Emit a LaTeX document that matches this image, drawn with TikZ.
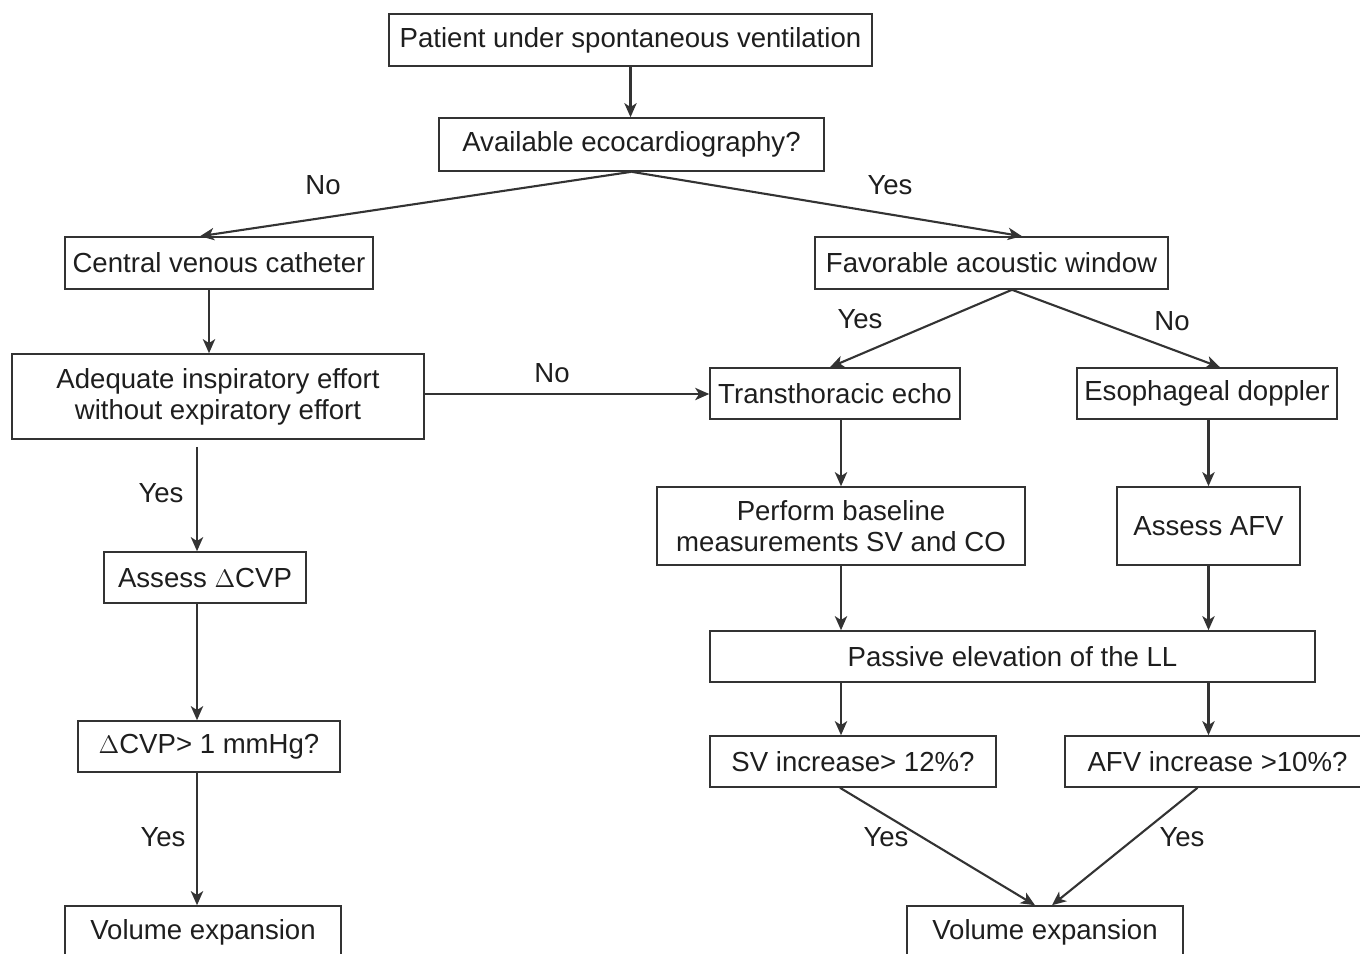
\documentclass[tikz,border=0pt]{standalone}
\usepackage{fontspec}
\setmainfont{Liberation Sans}
\usetikzlibrary{arrows.meta}
\definecolor{linegray}{HTML}{333333}
\definecolor{textgray}{HTML}{1E1E1E}
\begin{document}
\begin{tikzpicture}[x=0.02cm,y=-0.02cm,
  box/.style={draw=linegray,line width=0.9pt,rectangle,inner sep=2pt,align=center,
    text=textgray,font=\fontsize{15.7}{17.6}\selectfont},
  lbl/.style={text=textgray,font=\fontsize{15.7}{17.6}\selectfont},
  arrow/.style={draw=linegray,line width=1.2pt,-{Stealth[length=8pt,width=7pt,inset=2.2pt]}}]
\useasboundingbox (0,0) rectangle (1360,954);
\clip (0,0) rectangle (1360,954);

% boxes
\node[box,minimum width=9.66cm,minimum height=1.04cm] (pat) at (630.5,40) {Patient under spontaneous ventilation};
\node[box,minimum width=7.7cm,minimum height=1.06cm] (eco) at (631.5,144.5) {Available ecocardiography?};
\node[box,minimum width=6.16cm,minimum height=1.04cm] (cvc) at (219,263) {Central venous catheter};
\node[box,minimum width=7.06cm,minimum height=1.04cm] (win) at (991.5,263) {Favorable acoustic window};
\node[box,minimum width=8.24cm,minimum height=1.7cm] (eff) at (218,396.5) {Adequate inspiratory effort\\without expiratory effort};
\node[box,minimum width=5cm,minimum height=1.02cm] (tte) at (835,393.5) {Transthoracic echo};
\node[box,minimum width=5.2cm,minimum height=1.02cm] (eso) at (1207,393.5) {Esophageal doppler};
\node[box,minimum width=7.36cm,minimum height=1.56cm] (base) at (841,526) {Perform baseline\\measurements SV and CO};
\node[box,minimum width=3.66cm,minimum height=1.56cm] (afv) at (1208.5,526) {Assess AFV};
\node[box,minimum width=4.04cm,minimum height=1.02cm] (dcvp) at (205,577.5) {Assess $\Delta$CVP};
\node[box,minimum width=12.1cm,minimum height=1.02cm] (ple) at (1012.5,656.5) {Passive elevation of the LL};
\node[box,minimum width=5.24cm,minimum height=1.02cm] (cvpq) at (209,746.5) {$\Delta$CVP> 1 mmHg?};
\node[box,minimum width=5.72cm,minimum height=1.02cm] (svq) at (853,761.5) {SV increase> 12\%?};
\node[box,minimum width=6.1cm,minimum height=1.02cm] (afvq) at (1217.5,761.5) {AFV increase >10\%?};
\node[box,minimum width=5.52cm,minimum height=1.04cm] (volL) at (203,932) {Volume expansion};
\node[box,minimum width=5.52cm,minimum height=1.04cm] (volR) at (1045,932) {Volume expansion};

% connectors
\draw[arrow] (pat.south) -- (pat.south |- eco.north);
\draw[arrow] (eco.south) -- ([xshift=-0.38cm]cvc.north);
\draw[arrow] (eco.south) -- ([xshift=0.61cm]win.north);
\draw[arrow] ([xshift=-0.2cm]cvc.south) -- ([xshift=-0.2cm]cvc.south |- eff.north);
\draw[arrow] ([xshift=0.41cm]win.south) -- ([xshift=-0.1cm]tte.north);
\draw[arrow] ([xshift=0.41cm]win.south) -- ([xshift=0.26cm]eso.north);
\draw[arrow] ([yshift=0.05cm]eff.east) -- ([yshift=0.05cm]eff.east -| tte.west);
\draw[arrow] ([xshift=-0.16cm,yshift=-0.14cm]dcvp.north |- eff.south) -- ([xshift=-0.16cm]dcvp.north);
\draw[arrow] (base.north |- tte.south) -- (base.north);
\draw[arrow] (afv.north |- eso.south) -- (afv.north);
\draw[arrow] (base.south) -- (base.south |- ple.north);
\draw[arrow] (afv.south) -- (afv.south |- ple.north);
\draw[arrow] ([xshift=-0.16cm]dcvp.south) -- ([xshift=-0.16cm]dcvp.south |- cvpq.north);
\draw[arrow] (base.south |- ple.south) -- (base.south |- svq.north);
\draw[arrow] (afv.south |- ple.south) -- (afv.south |- afvq.north);
\draw[arrow] ([xshift=-0.16cm]dcvp.south |- cvpq.south) -- ([xshift=-0.16cm]dcvp.south |- volL.north);
\draw[arrow] ([xshift=-0.26cm]svq.south) -- ([xshift=-0.2cm]volR.north);
\draw[arrow] ([xshift=-0.4cm]afvq.south) -- ([xshift=0.14cm]volR.north);

% labels
\node[lbl] (l1) at (323,185) {No};
\node[lbl] (l2) at (890,185) {Yes};
\node[lbl] (l3) at (860,319) {Yes};
\node[lbl] (l4) at (1172,321) {No};
\node[lbl] (l5) at (552,373) {No};
\node[lbl] (l6) at (161,493) {Yes};
\node[lbl] (l7) at (163,837) {Yes};
\node[lbl] (l8) at (886,837) {Yes};
\node[lbl] (l9) at (1182,837) {Yes};
\end{tikzpicture}
\end{document}
